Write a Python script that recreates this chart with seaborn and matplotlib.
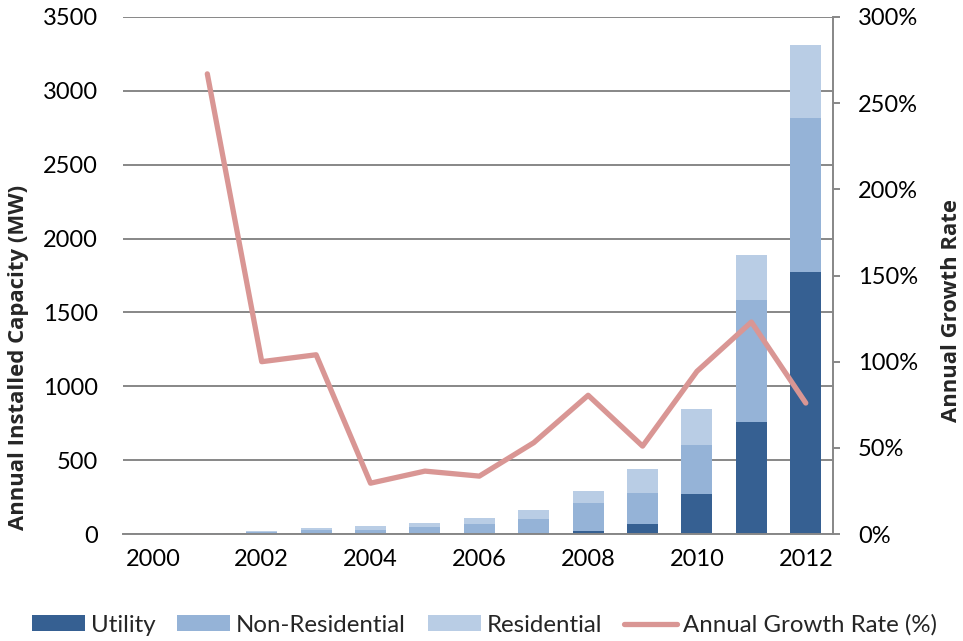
import numpy as np
import pandas as pd
import matplotlib
matplotlib.use("Agg")
import matplotlib.pyplot as plt
from matplotlib.patches import Patch
from matplotlib.lines import Line2D
from matplotlib.ticker import PercentFormatter, MultipleLocator
import seaborn as sns

# Annual installed PV capacity by market segment (MW)
years = [2000, 2001, 2002, 2003, 2004, 2005, 2006, 2007, 2008, 2009, 2010, 2011, 2012]
utility = [0, 0, 0, 0, 0, 0, 3, 8, 20, 70, 268, 759, 1777]
non_residential = [2, 4, 11, 27, 27, 47, 67, 95, 192, 207, 335, 822, 1041]
residential = [2, 5, 9, 16, 29, 27, 38, 59, 78, 162, 246, 309, 493]
# Year-over-year growth of total installations (fraction)
growth_rate = [np.nan, 2.67, 1.00, 1.04, 0.295, 0.365, 0.336, 0.53, 0.805, 0.51, 0.944, 1.23, 0.76]

series_names = ["Utility", "Non-Residential", "Residential"]
colors = {"Utility": "#366092", "Non-Residential": "#95B3D7", "Residential": "#B9CDE5"}
line_color = "#D99694"
grid_color = "#878787"

df = pd.DataFrame({
    "year": years,
    "Utility": utility,
    "Non-Residential": non_residential,
    "Residential": residential,
    "growth": growth_rate,
})
# cumulative stacks so each layer can be drawn over the previous one
df["stack_util"] = df["Utility"]
df["stack_nonres"] = df["Utility"] + df["Non-Residential"]
df["stack_total"] = df["stack_nonres"] + df["Residential"]

sns.set_theme(style="white")
plt.rcParams["font.family"] = ["Lato", "DejaVu Sans"]
plt.rcParams["axes.unicode_minus"] = False
label_font = dict(family=["Open Sans", "DejaVu Sans"], fontsize=15.9, fontweight="bold")

fig = plt.figure(figsize=(9.63, 6.41), dpi=100)
ax = fig.add_axes([0.1277, 0.1669, 0.7373, 0.8066])

bar_w = 0.57
for col, name in [("stack_total", "Residential"), ("stack_nonres", "Non-Residential"),
                  ("stack_util", "Utility")]:
    sns.barplot(data=df, x="year", y=col, native_scale=True, color=colors[name],
                saturation=1, width=bar_w, ax=ax, edgecolor="none", linewidth=0, zorder=2)

ax.set_xlim(1999.45, 2012.5)
ax.set_ylim(0, 3500)
ax.yaxis.set_major_locator(MultipleLocator(500))
ax.set_xticks(years[::2])
ax.set_xticklabels([str(y) for y in years[::2]])
ax.grid(axis="y", color=grid_color, linewidth=1.4, zorder=0)
ax.grid(axis="x", visible=False)
ax.set_axisbelow(True)
for side in ["left", "top", "right"]:
    ax.spines[side].set_visible(False)
ax.spines["bottom"].set_color(grid_color)
ax.spines["bottom"].set_linewidth(1.4)
ax.tick_params(axis="y", length=0, pad=18, labelsize=17, colors="black")
ax.tick_params(axis="x", length=0, pad=11, labelsize=17, colors="black")
ax.set_xlabel("")
ax.set_ylabel("Annual Installed Capacity (MW)", **label_font)
ax.yaxis.label.set_verticalalignment("center")
ax.yaxis.set_label_coords(-0.1465, 0.342)

ax2 = ax.twinx()
sns.lineplot(data=df.dropna(subset=["growth"]), x="year", y="growth", color=line_color,
             linewidth=3.8, ax=ax2, zorder=3)
ax2.set_ylim(0, 3.0)
ax2.yaxis.set_major_locator(MultipleLocator(0.5))
ax2.yaxis.set_major_formatter(PercentFormatter(xmax=1, decimals=0))
for side in ["left", "top", "bottom"]:
    ax2.spines[side].set_visible(False)
ax2.spines["right"].set_color(grid_color)
ax2.spines["right"].set_linewidth(1.4)
ax2.tick_params(axis="y", direction="out", length=5, width=1.4, color=grid_color,
                pad=13, labelsize=17, labelcolor="black")
ax2.grid(False)
ax2.set_xlabel("")
ax2.set_ylabel("Annual Growth Rate", **label_font)
ax2.yaxis.label.set_verticalalignment("center")
ax2.yaxis.set_label_coords(1.1676, 0.433)

handles = [Patch(facecolor=colors[n], edgecolor="none") for n in series_names]
handles.append(Line2D([0], [0], color=line_color, linewidth=3.8))
labels = series_names + ["Annual Growth Rate (%)"]
fig.legend(handles, labels, loc="center", bbox_to_anchor=(0.503, 0.025), ncol=4,
           frameon=False, fontsize=17.3, handlelength=2.2, handleheight=0.64,
           handletextpad=0.25, columnspacing=0.9)

fig.savefig("out.png", dpi=100)
